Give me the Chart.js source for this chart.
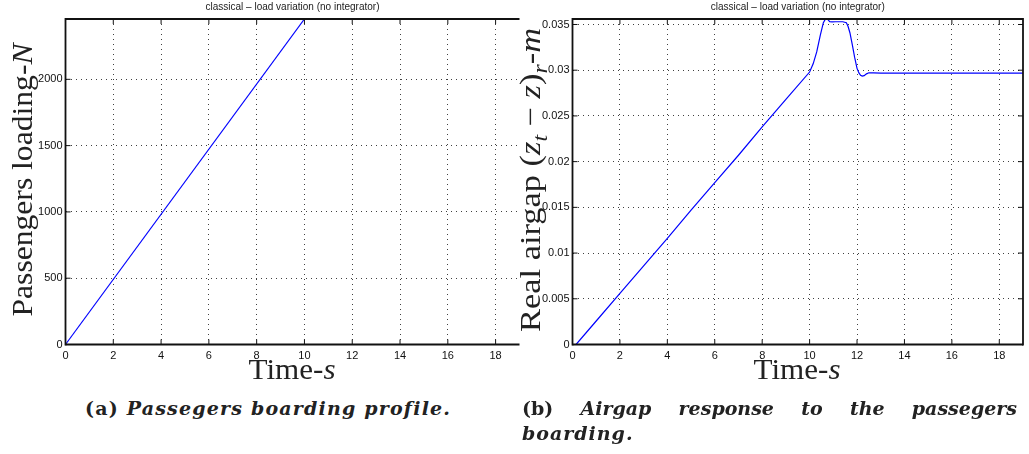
<!DOCTYPE html>
<html><head><meta charset="utf-8">
<script src="https://cdn.jsdelivr.net/npm/chart.js@4.4.1/dist/chart.umd.min.js"></script>
<style>
html,body{margin:0;padding:0;background:#fff;width:1029px;height:454px;overflow:hidden;position:relative;}
canvas{position:absolute;}
.cap{position:absolute;font-family:"DejaVu Serif",serif;font-size:19px;font-weight:bold;line-height:20px;color:#222;white-space:nowrap;}
.cap i{font-style:italic;}
#capA{letter-spacing:1.2px;}
#capB1{display:flex;justify-content:space-between;width:495px;}
</style></head><body>
<canvas id="c1" width="521" height="390" style="left:0;top:0;width:521px;height:390px"></canvas>
<canvas id="c2" width="529" height="390" style="left:500px;top:0;width:529px;height:390px"></canvas>
<div class="cap" id="capA" style="left:85px;top:398px">(a) <i>Passegers boarding profile.</i></div>
<div class="cap" id="capB1" style="left:522px;top:398px"><span>(b)</span><i>Airgap</i><i>response</i><i>to</i><i>the</i><i>passegers</i></div>
<div class="cap" style="left:522px;top:423px;letter-spacing:1px"><i>boarding.</i></div>
<script>
// ---- data ----
const xTicks = [0, 2, 4, 6, 8, 10, 12, 14, 16, 18];
const loadTicks = [0, 500, 1000, 1500, 2000];
const gapTicks = [0, 0.005, 0.01, 0.015, 0.02, 0.025, 0.03, 0.035];
const loadTime = [0, 10];
const loadValues = [0, 2455];
const gapTime = [0, 0.15, 1, 2, 3, 4, 5, 6, 7, 8, 9, 10, 10.15, 10.3, 10.45, 10.58, 10.68, 10.76, 10.85, 10.95, 11.1, 11.4, 11.55, 11.62, 11.7, 11.8, 11.9, 12.0, 12.08, 12.15, 12.22, 12.3, 12.4, 12.5, 12.7, 13, 16, 19];
const gapValues = [0, 0, 0.00257, 0.0056, 0.0086, 0.0116, 0.0147, 0.0177, 0.0207, 0.0238, 0.0268, 0.0298, 0.0307, 0.0320, 0.0338, 0.0352, 0.03565, 0.03555, 0.0353, 0.03528, 0.0353, 0.0353, 0.0352, 0.0348, 0.0341, 0.0328, 0.0314, 0.0302, 0.0297, 0.02945, 0.02935, 0.0294, 0.0296, 0.02972, 0.0297, 0.02968, 0.02968, 0.02968];
const titleText = 'classical \u2013 load variation (no integrator)';
const xLabel = [{t: 'Time-'}, {t: 's', i: true}];
const leftYLabel = [{t: 'Passengers loading-'}, {t: 'N', i: true}];
const rightYLabel = [{t: 'Real airgap ('}, {t: 'z', i: true}, {t: 't', i: true, sub: true}, {t: ' \u2212 '}, {t: 'z', i: true}, {t: ')'}, {t: 'r', i: true, sub: true}, {t: '-'}, {t: 'm', i: true}];

function richText(ctx, segs, cx, cy, rot, size, target) {
  const fam = '"Liberation Serif", serif';
  const fontOf = s => (s.i ? 'italic ' : '') + (s.sub ? Math.round(size * 0.7) : size) + 'px ' + fam;
  const widths = []; let W = 0;
  segs.forEach(s => { ctx.font = fontOf(s); const w = ctx.measureText(s.t).width; widths.push(w); W += w; });
  const k = target ? target / W : 1;
  ctx.save();
  ctx.translate(cx, cy); ctx.rotate(rot); ctx.scale(k, 1);
  ctx.fillStyle = '#222'; ctx.textAlign = 'left'; ctx.textBaseline = 'alphabetic';
  let x = -W / 2;
  segs.forEach((s, i) => { ctx.font = fontOf(s); ctx.fillText(s.t, x, s.sub ? size * 0.24 : 0); x += widths[i]; });
  ctx.restore();
}

const framePlugin = {
  id: 'frame',
  afterDatasetsDraw(chart, args, o) {
    const {ctx, chartArea: a, scales: {x, y}} = chart;
    ctx.save();
    ctx.strokeStyle = '#111';
    const seg = (x1, y1, x2, y2) => { ctx.beginPath(); ctx.moveTo(x1, y1); ctx.lineTo(x2, y2); ctx.stroke(); };
    ctx.lineWidth = 1;
    x.ticks.forEach(t => { const px = x.getPixelForValue(t.value); seg(px, a.bottom, px, a.bottom - 5); seg(px, a.top, px, a.top + 5); });
    y.ticks.forEach(t => { const py = y.getPixelForValue(t.value); seg(a.left, py, a.left + 5, py); if (o.right) seg(a.right, py, a.right - 5, py); });
    ctx.lineWidth = 1.8;
    seg(a.left, a.top - 0.9, a.left, a.bottom + 0.9);
    seg(a.left, a.bottom, a.right, a.bottom);
    seg(a.left, a.top, a.right, a.top);
    if (o.right) seg(a.right, a.top - 0.9, a.right, a.bottom + 0.9);
    ctx.restore();
  },
  afterDraw(chart, args, o) {
    const {ctx, chartArea: a} = chart;
    const cx = (a.left + a.right) / 2;
    ctx.save();
    ctx.font = '10px "Liberation Sans", Arial, sans-serif';
    ctx.fillStyle = '#222'; ctx.textAlign = 'center'; ctx.textBaseline = 'alphabetic';
    ctx.fillText(titleText, cx, 10);
    ctx.restore();
    richText(ctx, xLabel, o.xlx, 379, 0, 29, 87);
    richText(ctx, o.ylab, o.ylx, o.yly, -Math.PI / 2, 29, o.ylw);
  }
};

function makeChart(id, xs, ys, yTicks, yMax, yAxisW, padRight, fmt, extra) {
  const pts = xs.map((v, i) => ({x: v, y: ys[i]}));
  return new Chart(document.getElementById(id), {
    type: 'line',
    data: {datasets: [{data: pts, borderColor: '#0000ff', borderWidth: 1.2, pointRadius: 0, fill: false, tension: 0}]},
    options: {
      responsive: false, animation: false, devicePixelRatio: 1,
      layout: {padding: {top: 19, right: padRight, left: 0, bottom: 0}},
      plugins: {legend: {display: false}, tooltip: {enabled: false}, title: {display: false}, frame: extra},
      scales: {
        x: {
          type: 'linear', min: 0, max: 19,
          afterBuildTicks: s => { s.ticks = xTicks.map(v => ({value: v})); },
          afterFit: s => { s.height = 45.5; },
          grid: {color: 'rgba(0,0,0,0.75)', lineWidth: 1, drawTicks: false},
          border: {display: false, dash: [1, 4]},
          ticks: {padding: 5, color: '#111', font: {family: '"Liberation Sans", Arial, sans-serif', size: 11}, maxRotation: 0, autoSkip: false, callback: v => String(v)}
        },
        y: {
          type: 'linear', min: 0, max: yMax,
          afterBuildTicks: s => { s.ticks = yTicks.map(v => ({value: v})); },
          afterFit: s => { s.width = yAxisW; },
          grid: {color: 'rgba(0,0,0,0.75)', lineWidth: 1, drawTicks: false},
          border: {display: false, dash: [1, 4]},
          ticks: {padding: 3, color: '#111', font: {family: '"Liberation Sans", Arial, sans-serif', size: 11}, autoSkip: false, callback: fmt}
        }
      }
    },
    plugins: [framePlugin]
  });
}

makeChart('c1', loadTime, loadValues, loadTicks, 2455, 65.5, 1.5, v => String(v),
  {right: false, xlx: 292, ylab: leftYLabel, ylx: 32, yly: 180, ylw: 273});
makeChart('c2', gapTime, gapValues, gapTicks, 0.0356, 72.5, 6, v => String(+v.toFixed(3)),
  {right: true, xlx: 297, ylab: rightYLabel, ylx: 40, yly: 180, ylw: 304});
</script>
</body></html>
